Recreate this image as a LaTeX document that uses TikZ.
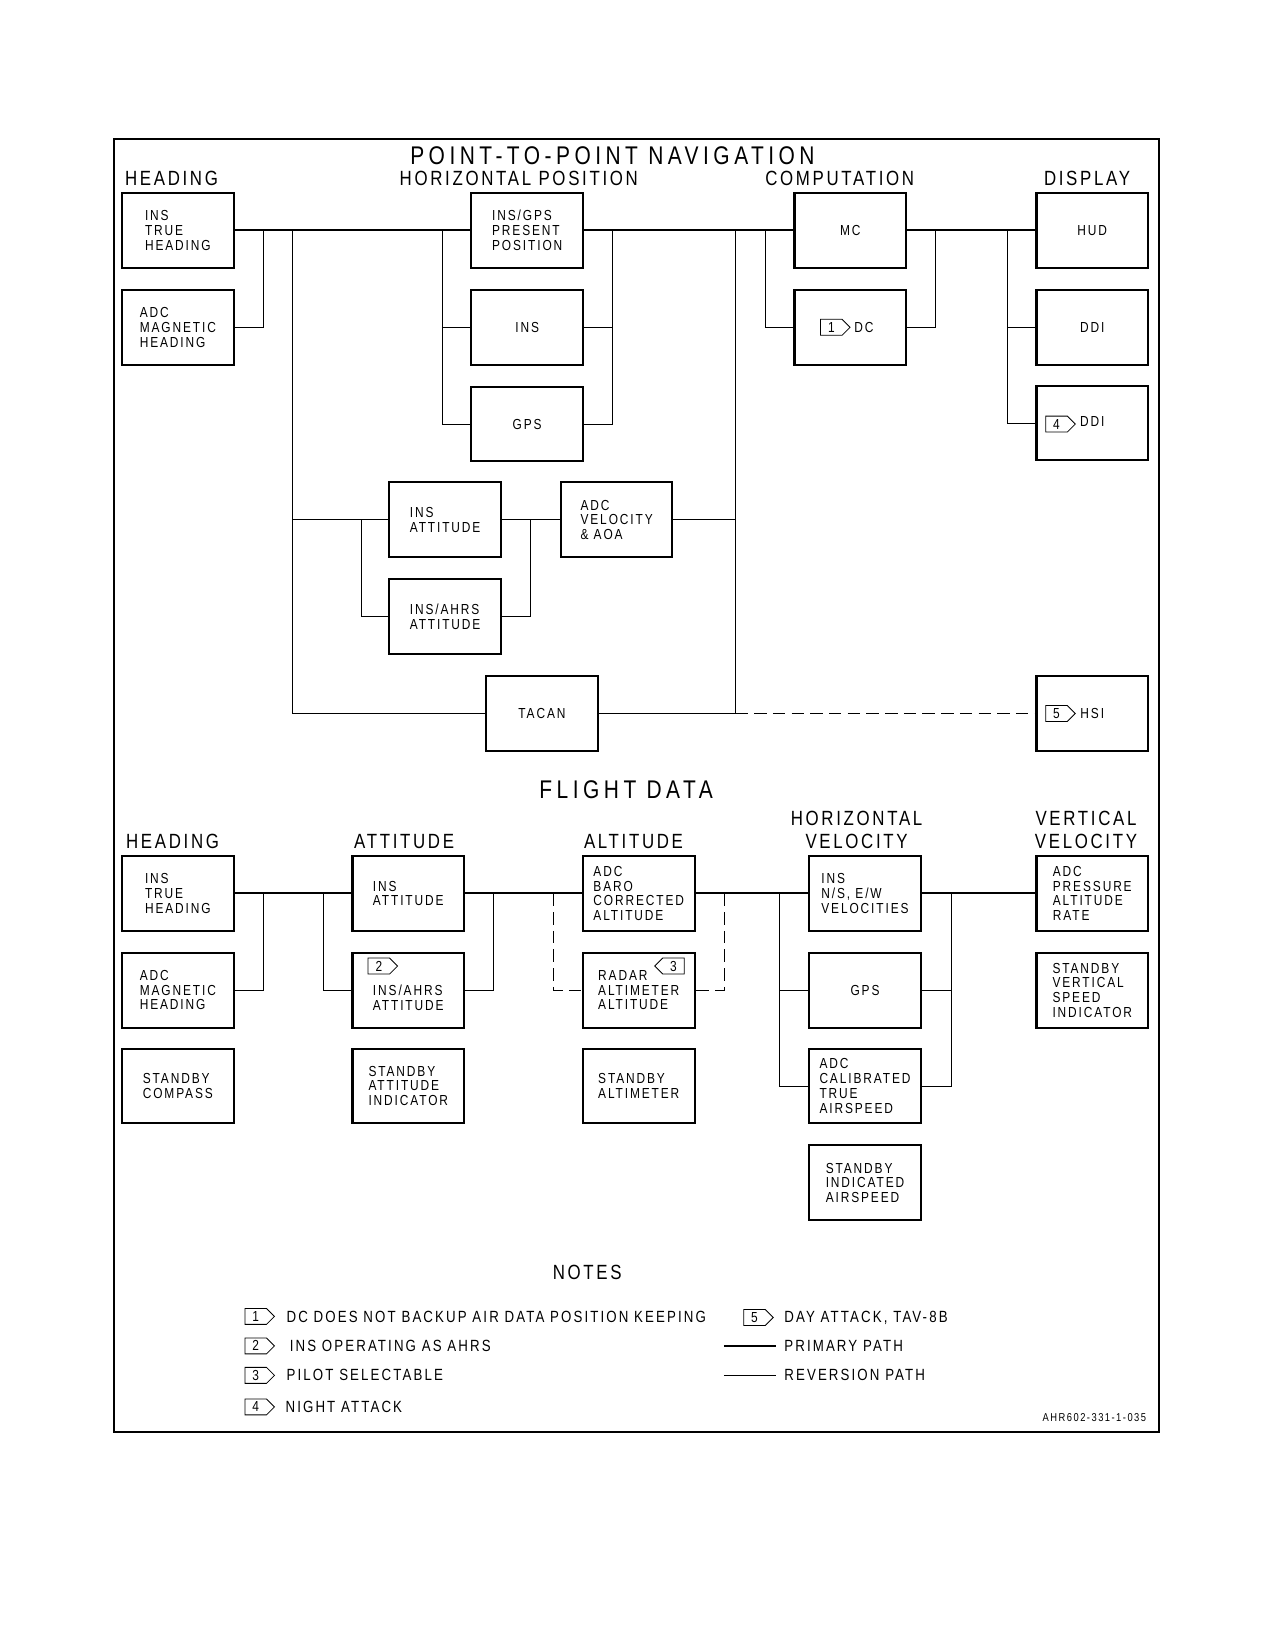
\documentclass[tikz,border=0pt]{standalone}
\usepackage{fontspec}
\setmainfont{Liberation Sans}[FakeStretch=0.82, LetterSpace=13]
\usetikzlibrary{shapes.symbols}

\newcommand{\boxfont}{\fontsize{7}{7.1}\selectfont}
\newcommand{\headfont}{\fontsize{9.9}{11.1}\selectfont}
\newcommand{\titlefont}{\fontsize{12.3}{14}\selectfont\addfontfeature{LetterSpace=17.5}}
\newcommand{\notefont}{\fontsize{7.8}{9}\selectfont}
\newcommand{\refnofont}{\fontsize{5.5}{6}\selectfont}

\begin{document}
\begin{tikzpicture}[x=0.017813cm, y=-0.017813cm,
    box/.style={draw, line width=1pt, minimum width=1.888cm, minimum height=1.265cm, inner sep=0pt, align=left, font=\boxfont},
    label text/.style={align=left, inner sep=0pt, font=\boxfont},
    prim/.style={line width=1pt},
    rev/.style={line width=0.4pt},
    alt/.style={line width=0.4pt, dash pattern=on 6pt off 3pt},
    flag/.style={signal, signal to=east, draw, line width=0.4pt, minimum width=0.5cm, minimum height=0.27cm, inner sep=0.5pt, font=\boxfont},
    flag left/.style={flag, signal to=west},
    title/.style={font=\titlefont, inner sep=0pt},
    head/.style={font=\headfont, inner sep=0pt, align=center},
    note/.style={font=\notefont, inner sep=0pt, anchor=west}]
    \useasboundingbox (0,0) rectangle (1212,1568);
    \draw[line width=1pt] (108,132) rectangle (1101,1361);

    % Point-to-point navigation
    \node[title] (ptp) at (582,148) {POINT-TO-POINT NAVIGATION};
    \node[head] (h-hdg) at (163,170) {HEADING};
    \node[head] (h-hpos) at (493,170) {HORIZONTAL POSITION};
    \node[head] (h-comp) at (798,170) {COMPUTATION};
    \node[head] (h-disp) at (1033,170) {DISPLAY};

    \node[box] (ith) at (169,219) {INS\\TRUE\\HEADING};
    \node[box] (amh) at (169,311) {ADC\\MAGNETIC\\HEADING};
    \node[box] (gpp) at (501,219) {INS/GPS\\PRESENT\\POSITION};
    \node[box] (ins) at (501,311) {INS};
    \node[box] (gps) at (501,403) {GPS};
    \node[box] (mc) at (808,219) {MC};
    \node[box] (dc) at (808,311) {};
    \node[flag] (n1-dc) at (790,311) {1};
    \node[label text] (t-dc) at (821,311) {DC};
    \node[box] (hud) at (1038,219) {HUD};
    \node[box] (ddi) at (1038,311) {DDI};
    \node[box] (ddin) at (1038,402) {};
    \node[flag] (n4-ddi) at (1004,403) {4};
    \node[label text] (t-ddin) at (1038,401) {DDI};
    \node[box] (iatt) at (423,494) {INS\\ATTITUDE};
    \node[box] (avel) at (586,494) {ADC\\VELOCITY\\\& AOA};
    \node[box] (iahrs) at (423,586) {INS/AHRS\\ATTITUDE};
    \node[box] (tacan) at (515,678) {TACAN};
    \node[box] (hsi) at (1038,678) {};
    \node[flag] (n5-hsi) at (1004,678) {5};
    \node[label text] (t-hsi) at (1038,678) {HSI};

    \coordinate (j1) at (250,219);
    \coordinate (j2) at (278,219);
    \coordinate (j3) at (420,219);
    \coordinate (j4) at (582,219);
    \coordinate (j5) at (699,219);
    \coordinate (j6) at (727,219);
    \coordinate (j7) at (889,219);
    \coordinate (j8) at (957,219);
    \coordinate (k1) at (343,494);
    \coordinate (k2) at (504,494);

    \draw[prim] (ith) -- (gpp) -- (mc) -- (hud);
    \draw[rev] (j1) |- (amh);
    \draw[rev] (j2) |- (tacan);
    \draw[rev] (j2 |- iatt) -- (iatt);
    \draw[rev] (j3) |- (gps);
    \draw[rev] (j3 |- ins) -- (ins);
    \draw[rev] (j4) |- (gps);
    \draw[rev] (j4 |- ins) -- (ins);
    \draw[rev] (iatt) -- (avel);
    \draw[rev] (k1) |- (iahrs);
    \draw[rev] (k2) |- (iahrs);
    \draw[rev] (j5) |- (tacan);
    \draw[rev] (avel) -- (avel -| j5);
    \draw[alt] (tacan -| j5) -- (hsi);
    \draw[rev] (j6) |- (dc);
    \draw[rev] (j7) |- (dc);
    \draw[rev] (j8) |- (ddin);
    \draw[rev] (j8 |- ddi) -- (ddi);

    % Flight data
    \node[title] (fd) at (595,750) {FLIGHT DATA};
    \node[head] (f-hdg) at (164,800) {HEADING};
    \node[head] (f-att) at (384,800) {ATTITUDE};
    \node[head] (f-alt) at (602,800) {ALTITUDE};
    \node[head] (f-hvel) at (814,789) {HORIZONTAL\\VELOCITY};
    \node[head] (f-vvel) at (1032,789) {VERTICAL\\VELOCITY};

    \node[box] (fith) at (169,849) {INS\\TRUE\\HEADING};
    \node[box] (famh) at (169,941) {ADC\\MAGNETIC\\HEADING};
    \node[box] (fsc) at (169,1032) {STANDBY\\COMPASS};
    \node[box] (fiatt) at (388,849) {INS\\ATTITUDE};
    \node[box] (fiahrs) at (388,941) {};
    \node[flag] (n2-ahrs) at (360,918) {2};
    \node[label text] (t-ahrs) at (388,948) {INS/AHRS\\ATTITUDE};
    \node[box] (fsai) at (388,1032) {STANDBY\\ATTITUDE\\INDICATOR};
    \node[box] (fbaro) at (607,849) {ADC\\BARO\\CORRECTED\\ALTITUDE};
    \node[box] (fradar) at (607,941) {RADAR\\ALTIMETER\\ALTITUDE};
    \node[flag left] (n3-radar) at (640,918) {3};
    \node[box] (fsalt) at (607,1032) {STANDBY\\ALTIMETER};
    \node[box] (fvel) at (822,849) {INS\\N/S, E/W\\VELOCITIES};
    \node[box] (fgps) at (822,941) {GPS};
    \node[box] (fcas) at (822,1032) {ADC\\CALIBRATED\\TRUE\\AIRSPEED};
    \node[box] (fsias) at (822,1124) {STANDBY\\INDICATED\\AIRSPEED};
    \node[box] (fpar) at (1038,849) {ADC\\PRESSURE\\ALTITUDE\\RATE};
    \node[box] (fsvsi) at (1038,941) {STANDBY\\VERTICAL\\SPEED\\INDICATOR};

    \coordinate (m1) at (250,849);
    \coordinate (m2) at (307,849);
    \coordinate (m3) at (469,849);
    \coordinate (m4) at (526,849);
    \coordinate (m5) at (688,849);
    \coordinate (m6) at (741,849);
    \coordinate (m7) at (904,849);

    \draw[prim] (fith) -- (fiatt) -- (fbaro) -- (fvel) -- (fpar);
    \draw[rev] (m1) |- (famh);
    \draw[rev] (m2) |- (fiahrs);
    \draw[rev] (m3) |- (fiahrs);
    \draw[alt] (m4) |- (fradar);
    \draw[alt] (m5) |- (fradar);
    \draw[rev] (m6) |- (fcas);
    \draw[rev] (m6 |- fgps) -- (fgps);
    \draw[rev] (m7) |- (fcas);
    \draw[rev] (m7 |- fgps) -- (fgps);

    % Notes
    \node[head] (notes) at (558,1209) {NOTES};
    \node[flag] (n1) at (243,1251) {1};
    \node[note] (t1) at (272,1251) {DC DOES NOT BACKUP AIR DATA POSITION KEEPING};
    \node[flag] (n2) at (243,1279) {2};
    \node[note] (t2) at (275,1279) {INS OPERATING AS AHRS};
    \node[flag] (n3) at (243,1307) {3};
    \node[note] (t3) at (272,1307) {PILOT SELECTABLE};
    \node[flag] (n4) at (243,1337) {4};
    \node[note] (t4) at (271,1337) {NIGHT ATTACK};
    \node[flag] (n5) at (717,1252) {5};
    \node[note] (t5) at (745,1252) {DAY ATTACK, TAV-8B};
    \coordinate (lp1) at (688,1279);
    \coordinate (lp2) at (737,1279);
    \draw[prim] (lp1) -- (lp2);
    \node[note] (tp) at (745,1279) {PRIMARY PATH};
    \coordinate (lr1) at (688,1307);
    \coordinate (lr2) at (737,1307);
    \draw[rev] (lr1) -- (lr2);
    \node[note] (tr) at (745,1307) {REVERSION PATH};
    \node[font=\refnofont, inner sep=0pt] (refno) at (1040,1347) {AHR602-331-1-035};
\end{tikzpicture}
\end{document}
